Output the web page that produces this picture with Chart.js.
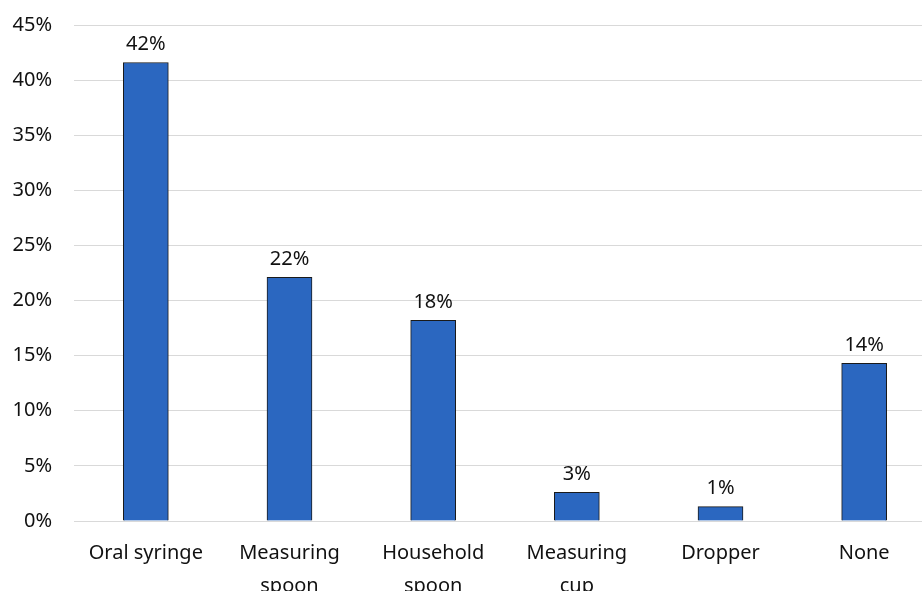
<!DOCTYPE html>
<html>
<head>
<meta charset="utf-8">
<script src="https://cdn.jsdelivr.net/npm/chart.js@4"></script>
<style>
  html,body{margin:0;padding:0;background:#fff;overflow:hidden;}
  #wrap{width:922px;height:591px;overflow:hidden;position:relative;}
  #box{width:936px;height:591px;position:absolute;left:0;top:0;}
</style>
</head>
<body>
<div id="wrap"><div id="box"><canvas id="c"></canvas></div></div>
<script>
const categories = [['Oral syringe'], ['Measuring', 'spoon'], ['Household', 'spoon'], ['Measuring', 'cup'], ['Dropper'], ['None']];
const values = [41.6, 22.1, 18.2, 2.6, 1.3, 14.3];
const valueLabels = ['42%', '22%', '18%', '3%', '1%', '14%'];
const yTicks = [0, 5, 10, 15, 20, 25, 30, 35, 40, 45];

const FONT = '"Noto Sans", "Open Sans", sans-serif';

// labels above the bars
const barLabels = {
  id:'barLabels',
  afterDatasetsDraw(chart){
    const ctx = chart.ctx;
    const meta = chart.getDatasetMeta(0);
    ctx.save();
    ctx.font = '20px ' + FONT;
    ctx.fillStyle = '#111';
    ctx.textAlign = 'center';
    ctx.textBaseline = 'bottom';
    meta.data.forEach((bar, i) => {
      ctx.fillText(valueLabels[i], bar.x, bar.y - 8);
    });
    ctx.restore();
  }
};

new Chart(document.getElementById('c'), {
  type:'bar',
  data:{
    labels: categories,
    datasets:[{
      data: values,
      backgroundColor:'#2B67C0',
      borderColor:'#1a1a1a',
      borderWidth:1,
      barThickness:45
    }]
  },
  options:{
    responsive:true,
    maintainAspectRatio:false,
    animation:false,
    layout:{padding:{top:25, right:0, left:0, bottom:0}},
    plugins:{legend:{display:false}, tooltip:{enabled:false}},
    scales:{
      x:{
        grid:{display:false, drawTicks:false},
        border:{display:false},
        ticks:{color:'#111', font:{family:FONT, size:20, lineHeight:1.65}, padding:16, maxRotation:0, autoSkip:false},
        afterFit(s){ s.height = 70; s.paddingLeft = 0; s.paddingRight = 0; }
      },
      y:{
        min:0, max:45,
        afterBuildTicks(s){ s.ticks = yTicks.map(v => ({value:v})); },
        grid:{color:'#d9d9d9', lineWidth:1, drawTicks:false},
        border:{display:false},
        ticks:{color:'#111', font:{family:FONT, size:20}, padding:22, callback:v => v + '%'},
        afterFit(s){ s.width = 74; s.paddingTop = 0; s.paddingBottom = 0; }
      }
    }
  },
  plugins:[barLabels]
});
</script>
</body>
</html>
